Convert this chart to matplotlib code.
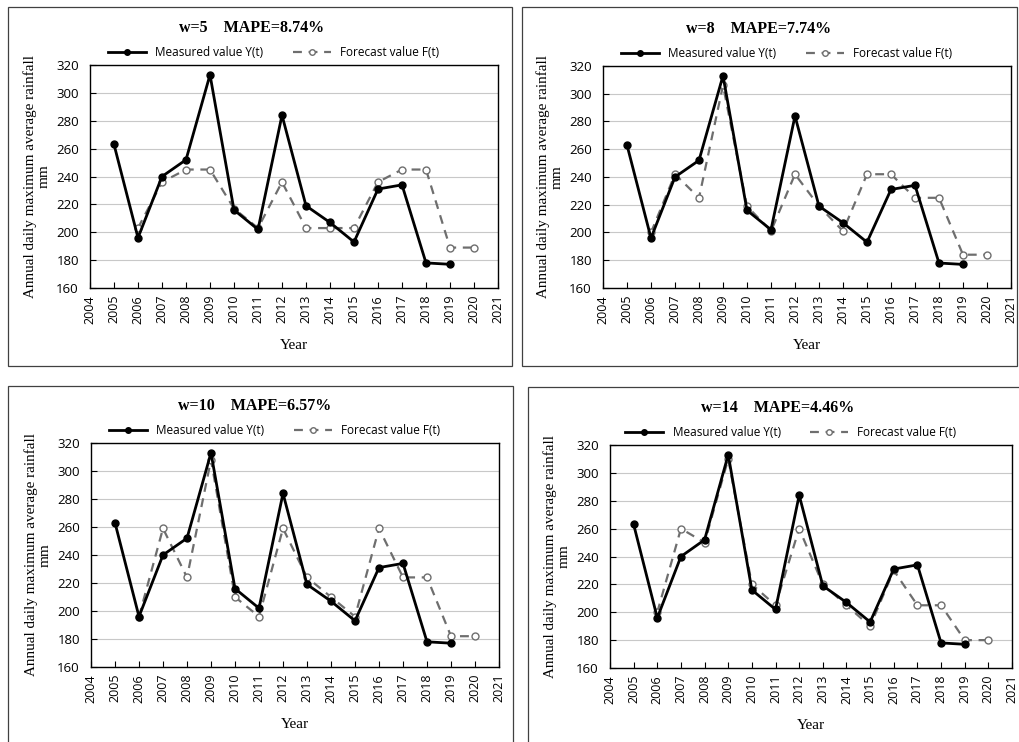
import numpy as np
import matplotlib.pyplot as plt
from matplotlib.patches import Rectangle

# data
years = list(range(2005, 2020))
measured = [263, 196, 240, 252, 313, 216, 202, 284, 219, 207, 193, 231, 234, 178, 177]

f_years = list(range(2006, 2021))
forecast_w5 = [203, 236, 245, 245, 217, 203, 236, 203, 203, 203, 236, 245, 245, 189, 189]
forecast_w8 = [200, 242, 225, 306, 219, 201, 242, 219, 201, 242, 242, 225, 225, 184, 184]
forecast_w10 = [196, 259, 224, 308, 210, 196, 259, 224, 210, 196, 259, 224, 224, 182, 182]
forecast_w14 = [200, 260, 250, 310, 220, 205, 260, 220, 205, 190, 230, 205, 205, 180, 180]

titles = ['w=5    MAPE=8.74%', 'w=8    MAPE=7.74%', 'w=10    MAPE=6.57%', 'w=14    MAPE=4.46%']
forecasts = [forecast_w5, forecast_w8, forecast_w10, forecast_w14]

W, H = 1019, 742
fig = plt.figure(figsize=(W / 100, H / 100), dpi=100)

def fx(px):
    return px / W

def fy(py):
    return 1 - py / H

# panel boxes (left, top, right, bottom) in pixels
boxes = [(8, 7, 512, 366), (522, 7, 1017, 366), (8, 386, 513, 745), (528, 387, 1025, 745)]
for l, t, r, b in boxes:
    fig.patches.append(Rectangle((fx(l), fy(b)), fx(r - l), (b - t) / H,
                                 transform=fig.transFigure, fill=False,
                                 edgecolor='#404040', linewidth=0.9))

# plot areas (left, top, right, bottom) in pixels
areas = [(90, 65, 498, 288), (603, 66, 1011, 288), (91, 443, 499, 667), (610, 445, 1012, 668)]
# title centre x in pixels
title_x = [252, 759, 255, 778]

sans = ['Open Sans', 'DejaVu Sans']
serif = 'Liberation Serif'

for i, (l, t, r, b) in enumerate(areas):
    ax = fig.add_axes([fx(l), fy(b), fx(r - l), (b - t) / H])
    ax.plot(years, measured, color='black', lw=2, marker='o', ms=5,
            mfc='black', mec='black', label='Measured value Y(t)', zorder=3)
    ax.plot(f_years, forecasts[i], color='#6e6e6e', lw=1.6, ls=(0, (4, 3)),
            marker='o', ms=5, mfc='white', mec='#6e6e6e',
            label='Forecast value F(t)', zorder=2)
    ax.set_xlim(2004, 2021)
    ax.set_ylim(160, 320)
    ax.set_xticks(range(2004, 2022))
    ax.set_xticklabels([str(y) for y in range(2004, 2022)], rotation=90,
                       family=sans, fontsize=9)
    ax.set_yticks(range(160, 321, 20))
    ax.set_yticklabels([str(v) for v in range(160, 321, 20)], family=sans, fontsize=9.5)
    ax.tick_params(direction='in', length=4, width=0.8)
    ax.tick_params(axis='y', pad=8)
    ax.tick_params(axis='x', pad=5)
    ax.grid(axis='y', color='#c8c8c8', lw=0.8)
    ax.set_axisbelow(True)
    for s in ax.spines.values():
        s.set_linewidth(1.0)
        s.set_color('black')
    ax.set_xlabel('Year', family=serif, fontsize=11, labelpad=11)
    ax.set_ylabel('Annual daily maximum average rainfall\nmm', family=serif,
                  fontsize=10.9, linespacing=1.05, labelpad=4)
    fig.text(fx(title_x[i]), fy(t - 37), titles[i], family=serif, fontweight='bold',
             fontsize=11.5, ha='center', va='center')
    ax.legend(loc='lower center', bbox_to_anchor=(0.45, 1.0), ncol=2, frameon=False,
              prop={'family': sans, 'size': 8.5}, handlelength=3.2,
              columnspacing=2.5, borderaxespad=0.1, markerscale=0.8)

fig.savefig('out.png', dpi=100)
